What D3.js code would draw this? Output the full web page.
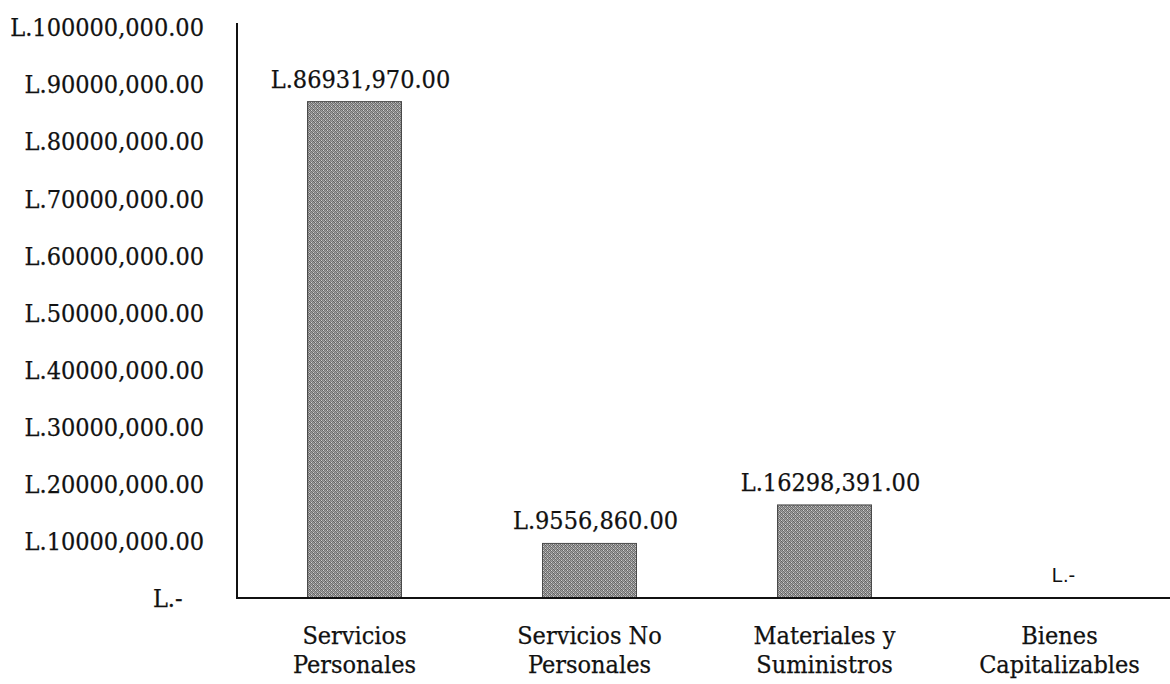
<!DOCTYPE html>
<html>
<head>
<meta charset="utf-8">
<script src="https://cdn.jsdelivr.net/npm/d3@7"></script>
<style>
  body { margin: 0; background: #fff; }
  text { font-family: "DejaVu Serif Condensed", "DejaVu Serif", serif; font-stretch: condensed; fill: #111; stroke: #111; stroke-width: 0.25px; }
</style>
</head>
<body>
<svg id="chart" width="1170" height="684"></svg>
<script>
  const categories = [["Servicios", "Personales"], ["Servicios No", "Personales"], ["Materiales y", "Suministros"], ["Bienes", "Capitalizables"]];
  const values = [86931970, 9556860, 16298391, 0];
  const yTicks = [0, 10000000, 20000000, 30000000, 40000000, 50000000, 60000000, 70000000, 80000000, 90000000, 100000000];

  // "L.86931,970.00" style: only the last thousands group is separated
  const fmt = v => {
    if (v === 0) return "L.-\u2007\u2008";
    const th = Math.floor(v / 1000), rest = v % 1000;
    return "L." + th + "," + String(rest).padStart(3, "0") + ".00";
  };

  const svg = d3.select("#chart");
  const x0 = 237, yBottom = 598, yTop = 27;

  const x = d3.scaleBand()
    .domain(categories.map((d, i) => i))
    .range([x0, 1177])
    .paddingInner(0.6)
    .paddingOuter(0.3);

  const y = d3.scaleLinear()
    .domain([0, 100000000])
    .range([yBottom, yTop]);

  // stippled grey fill like the scanned bars
  const defs = svg.append("defs");
  const pat = defs.append("pattern")
    .attr("id", "stip")
    .attr("width", 4).attr("height", 4)
    .attr("patternUnits", "userSpaceOnUse");
  pat.append("rect").attr("width", 4).attr("height", 4).attr("fill", "#a0a0a0");
  [[0, 0, "#6a6a6a"], [2, 0, "#787878"], [1, 1, "#5c5c5c"], [3, 1, "#808080"],
   [0, 2, "#737373"], [2, 2, "#656565"], [1, 3, "#7c7c7c"], [3, 3, "#6e6e6e"],
   [1, 0, "#cacaca"], [3, 2, "#d2d2d2"]].forEach(p => {
    pat.append("rect").attr("x", p[0]).attr("y", p[1]).attr("width", 1).attr("height", 1).attr("fill", p[2]);
  });

  // y axis: labels only plus a line
  const yAxis = svg.append("g")
    .attr("transform", `translate(${x0},0)`)
    .call(d3.axisLeft(y).tickValues(yTicks).tickFormat(fmt).tickSize(0).tickPadding(33));
  yAxis.select(".domain").remove();
  yAxis.selectAll("text")
    .attr("font-size", 25)
    .attr("font-family", null)
    .attr("dy", "0.35em");

  svg.append("line")
    .attr("x1", x0).attr("x2", x0)
    .attr("y1", yTop - 4).attr("y2", yBottom)
    .attr("stroke", "#111").attr("stroke-width", 2);

  // bars
  svg.selectAll(".bar")
    .data(values)
    .enter()
    .append("rect")
    .attr("class", "bar")
    .attr("x", (d, i) => x(i))
    .attr("y", d => y(d))
    .attr("width", x.bandwidth())
    .attr("height", d => yBottom - y(d))
    .attr("fill", "url(#stip)")
    .attr("stroke", "#4a4a4a")
    .attr("stroke-width", 1);

  // x axis line
  svg.append("line")
    .attr("x1", x0 - 1).attr("x2", 1170)
    .attr("y1", yBottom).attr("y2", yBottom)
    .attr("stroke", "#111").attr("stroke-width", 2);

  // value labels
  svg.selectAll(".val")
    .data(values)
    .enter()
    .append("text")
    .attr("class", "val")
    .attr("x", (d, i) => x(i) + x.bandwidth() / 2 + (d === 0 ? 4 : 6))
    .attr("y", d => d === 0 ? y(d) - 16 : y(d) - 14)
    .attr("text-anchor", "middle")
    .attr("font-size", d => d === 0 ? 20 : 25)
    .style("font-family", d => d === 0 ? "'Liberation Sans', Arial, sans-serif" : null)
    .style("font-stretch", d => d === 0 ? "normal" : null)
    .style("stroke-width", d => d === 0 ? "0px" : null)
    .text(d => d === 0 ? "L.-" : fmt(d));

  // category labels
  const cat = svg.selectAll(".cat")
    .data(categories)
    .enter()
    .append("text")
    .attr("class", "cat")
    .attr("text-anchor", "middle")
    .attr("font-size", 25)
    .attr("x", (d, i) => x(i) + x.bandwidth() / 2)
    .attr("y", 644);
  cat.selectAll("tspan")
    .data(d => d)
    .enter()
    .append("tspan")
    .attr("x", function () { return d3.select(this.parentNode).attr("x"); })
    .attr("dy", (d, i) => i === 0 ? 0 : 29)
    .text(d => d);
</script>
</body>
</html>
